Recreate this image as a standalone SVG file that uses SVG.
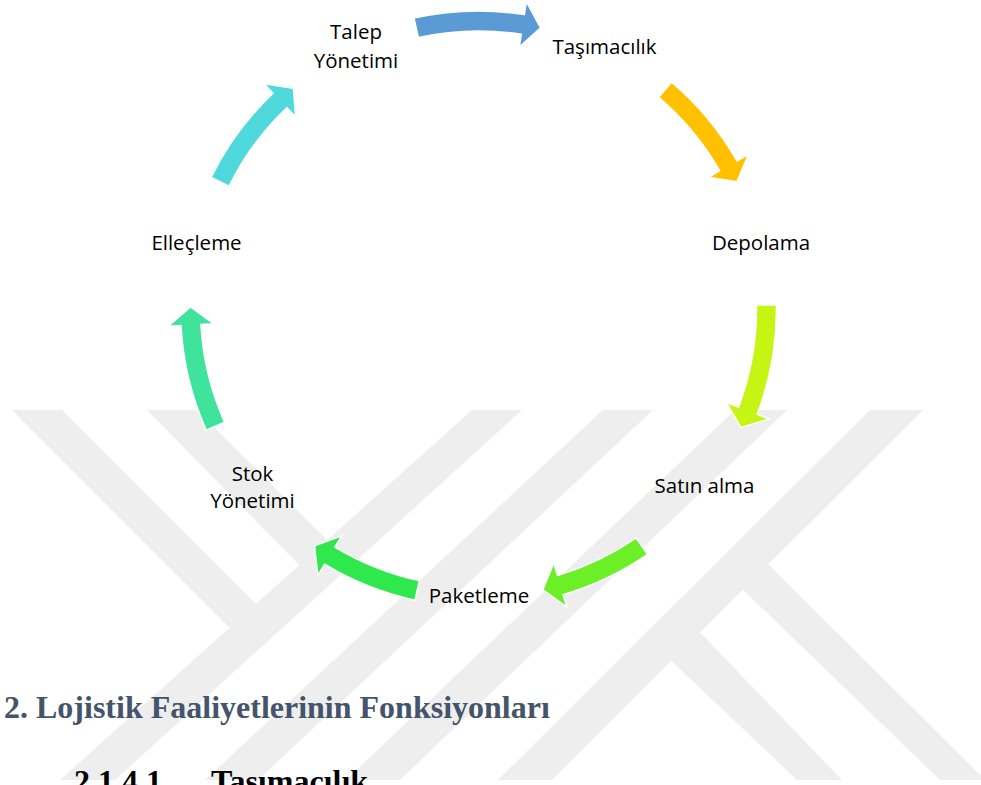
<svg xmlns="http://www.w3.org/2000/svg" width="981" height="785" viewBox="0 0 981 785">
  <style>
    .wm { fill: #eeeeee; }
    .arrow { stroke: #ffffff; stroke-width: 1.5; stroke-linejoin: miter; }
    .lbl { font-family: "Open Sans", "Noto Sans", sans-serif; font-size: 20.5px; fill: #000000; text-anchor: middle; }
    .h2 { font-family: "Liberation Serif", "Times New Roman", serif; font-weight: bold; font-size: 32px; fill: #44546A; }
    .h3 { font-family: "Liberation Serif", "Times New Roman", serif; font-weight: bold; font-size: 32px; fill: #000000; }
  </style>
  <defs>
    <clipPath id="wmclip">
      <rect x="0" y="410" width="981" height="370"/>
    </clipPath>
  </defs>
  <rect x="0" y="0" width="981" height="785" fill="#ffffff"/>

  <g id="watermark" clip-path="url(#wmclip)">
    <polygon class="wm" points="12,410 62,410 272,620 242,640"/>
    <polygon class="wm" points="147,410 197,410 340,553 312,578"/>
    <polygon class="wm" points="472,410 522,410 115,780 60,780"/>
    <polygon class="wm" points="603,410 653,410 258,780 205,780"/>
    <polygon class="wm" points="735,410 787,410 400,780 346,780"/>
    <polygon class="wm" points="870,410 923,410 552,780 498,780"/>
    <polygon class="wm" points="690,622 842,780 797,780 660,650"/>
    <polygon class="wm" points="760,556 985,780 940,780 735,582"/>
  </g>

  <g id="connectors">
    <path id="arrow-talep-tasimacilik" class="arrow" fill="#5B9BD5" d="M414,18.06 A298,298 0 0 1 524.35,14.55 L526.35,1.7 L540.58,27.77 L519.27,47.16 L521.27,34.31 A278,278 0 0 0 418.33,37.59 Z"/>
    <path id="arrow-tasimacilik-depolama" class="arrow" fill="#FFC000" d="M671.64,82.06 A298,298 0 0 1 737.1,160.9 L748.38,154.44 L736.91,181.84 L708.46,177.3 L719.74,170.84 A278,278 0 0 0 658.68,97.29 Z"/>
    <path id="arrow-depolama-satin" class="arrow" fill="#C6F514" d="M776.47,304.84 A298,298 0 0 1 757.26,414.33 L769.42,418.93 L740.98,427.51 L726.39,402.67 L738.55,407.26 A278,278 0 0 0 756.47,305.12 Z"/>
    <path id="arrow-satin-paketleme" class="arrow" fill="#6BEF26" d="M647.5,554.44 A298,298 0 0 1 563.14,594.73 L566.83,607.19 L542.8,589.73 L553.77,563.09 L557.46,575.55 A278,278 0 0 0 636.16,537.97 Z"/>
    <path id="arrow-paketleme-stok" class="arrow" fill="#2EE84E" d="M415.02,600.16 A298,298 0 0 1 324.57,564.17 L317.86,575.3 L314.55,545.78 L341.62,535.91 L334.9,547.04 A278,278 0 0 0 419.28,580.62 Z"/>
    <path id="arrow-stok-ellecleme" class="arrow" fill="#40E39B" d="M206.26,430.21 A298,298 0 0 1 180.96,325.63 L167.99,326.36 L190.51,306.99 L213.91,323.79 L200.93,324.52 A278,278 0 0 0 224.53,422.07 Z"/>
    <path id="arrow-ellecleme-talep" class="arrow" fill="#4FD9DC" d="M211.12,177.43 A298,298 0 0 1 272.99,93.2 L264.03,83.78 L293.38,88.38 L295.75,117.09 L286.79,107.68 A278,278 0 0 0 229.06,186.26 Z"/>
  </g>

  <g id="node-talep">
    <text class="lbl" x="356" y="39">Talep</text>
    <text class="lbl" x="356" y="68">Yönetimi</text>
  </g>
  <g id="node-tasimacilik">
    <text class="lbl" x="604.5" y="54">Taşımacılık</text>
  </g>
  <g id="node-depolama">
    <text class="lbl" x="761" y="250">Depolama</text>
  </g>
  <g id="node-satin">
    <text class="lbl" x="704.5" y="493">Satın alma</text>
  </g>
  <g id="node-paketleme">
    <text class="lbl" x="479" y="603">Paketleme</text>
  </g>
  <g id="node-stok">
    <text class="lbl" x="252.5" y="481">Stok</text>
    <text class="lbl" x="252.5" y="508">Yönetimi</text>
  </g>
  <g id="node-ellecleme">
    <text class="lbl" x="196.5" y="250">Elleçleme</text>
  </g>

  <g id="headings">
    <text class="h2" x="4" y="718">2. Lojistik Faaliyetlerinin Fonksiyonları</text>
    <text class="h3" x="74" y="792">2.1.4.1</text>
    <text class="h3" x="211" y="792">Taşımacılık</text>
  </g>
</svg>
